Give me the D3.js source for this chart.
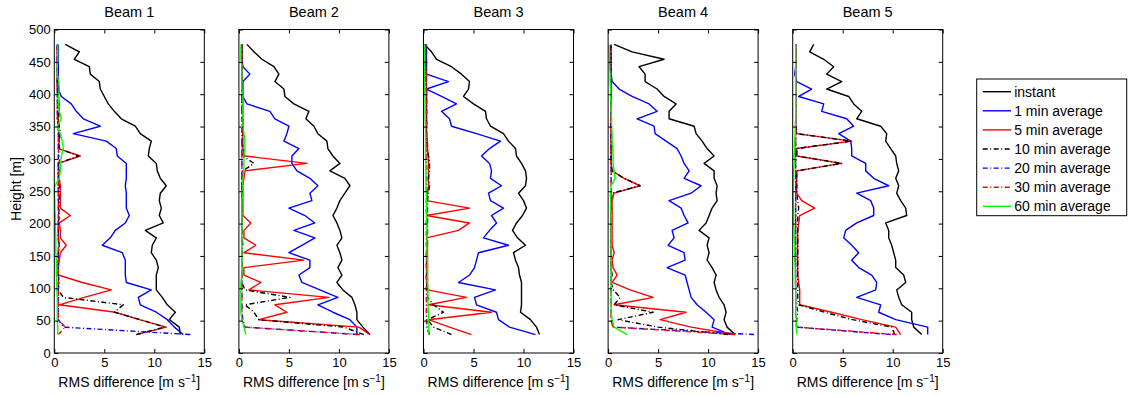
<!DOCTYPE html>
<html>
<head>
<meta charset="utf-8">
<script src="https://cdn.jsdelivr.net/npm/d3@7"></script>
<style>
  body { margin: 0; background: #fff; }
  text { font-family: "Liberation Sans", Arial, Helvetica, sans-serif; }
</style>
</head>
<body>
<script>
const width = 1130;
const height = 396;

// range gate heights [m], bottom to top
const heights = [
  28.5, 40, 51.5, 63, 74.5, 86, 97.5, 109, 120.5, 132,
  143.5, 155, 166.5, 178, 189.5, 201, 212.5, 224, 235.5, 247,
  258.5, 270, 281.5, 293, 304.5, 316, 327.5, 339, 350.5, 362,
  373.5, 385, 396.5, 408, 419.5, 431, 442.5, 454, 465.5, 477
];

const beamNames = ["Beam 1", "Beam 2", "Beam 3", "Beam 4", "Beam 5"];
const seriesNames = ["instant", "1 min average", "5 min average", "10 min average",
                     "20 min average", "30 min average", "60 min average"];
const seriesColors = ["#000000", "#0000ff", "#ff0000", "#000000", "#0000ff", "#ff0000", "#00ff00"];
const seriesDash = [null, null, null, "5,2.5,1,2.5", "5,2.5,1,2.5", "5,2.5,1,2.5", null];

const xTicks = [0, 5, 10, 15];
const yTicks = [0, 50, 100, 150, 200, 250, 300, 350, 400, 450, 500];

// RMS difference [m/s] per series, same order as seriesNames
const beam1 = [
  [12.6, 12.5, 11.5, 12.1, 11.3, 10.8, 10.2, 10.2, 10.2, 10.4,
   10.2, 9.7, 9.8, 10.2, 9.1, 10.9, 10.5, 10.7, 10.5, 10.6,
   11.2, 10.6, 10.3, 10.2, 9.4, 9.5, 9.7, 8.6, 8.1, 6.7,
   6.0, 5.4, 5.0, 4.6, 4.5, 3.6, 3.5, 2.0, 2.5, 1.1],
  [12.9, 12.0, 11.3, 10.2, 8.6, 8.4, 9.7, 7.2, 7.1, 7.1,
   7.1, 6.8, 4.8, 5.6, 6.1, 7.1, 7.5, 7.2, 7.2, 7.2,
   7.1, 7.2, 7.2, 7.2, 6.3, 6.2, 5.2, 1.9, 4.6, 2.9,
   2.2, 1.7, 0.7, 0.4, 0.4, 0.4, 0.4, 0.4, 0.4, 0.4],
  [8.2, 11.2, 8.5, 6.1, 0.5, 3.0, 5.7, 2.8, 0.4, 0.4,
   0.5, 0.6, 1.2, 0.6, 0.6, 0.5, 1.6, 0.6, 0.6, 0.6,
   0.6, 0.5, 0.5, 0.4, 2.6, 0.4, 0.5, 0.5, 0.4, 0.4,
   0.5, 0.5, 0.4, 0.3, 0.3, 0.3, 0.3, 0.3, 0.3, 0.3],
  [8.2, 11.0, 8.6, 6.0, 6.9, 0.9, 0.4, 0.4, 0.4, 0.4,
   0.4, 0.4, 0.5, 0.4, 0.4, 0.4, 0.5, 0.4, 0.5, 0.5,
   0.5, 0.4, 0.4, 0.4, 2.4, 0.5, 0.5, 0.6, 0.5, 0.4,
   0.5, 0.4, 0.4, 0.3, 0.3, 0.3, 0.3, 0.3, 0.3, 0.3],
  [13.6, 0.9, 0.4, 0.4, 0.4, 0.4, 0.4, 0.5, 0.4, 0.4,
   0.4, 0.4, 0.5, 0.4, 0.4, 0.4, 0.4, 0.5, 0.4, 0.4,
   0.4, 0.4, 0.4, 0.4, 0.4, 0.4, 0.4, 0.4, 0.4, 0.3,
   0.3, 0.3, 0.3, 0.3, 0.3, 0.3, 0.3, 0.3, 0.3, 0.3],
  [0.4, 1.1, 0.4, 0.4, 0.4, 0.4, 0.4, 0.4, 0.4, 0.4,
   0.4, 0.4, 0.4, 0.4, 0.4, 0.4, 0.4, 0.4, 0.4, 0.4,
   0.4, 0.4, 0.4, 0.5, 0.5, 0.4, 0.4, 0.4, 0.4, 0.3,
   0.3, 0.3, 0.3, 0.3, 0.3, 0.3, 0.3, 0.3, 0.3, 0.3],
  [0.35, 0.35, 0.3, 0.3, 0.3, 0.3, 0.25, 0.25, 0.2, 0.2,
   0.2, 0.15, 0.15, 0.15, 0.1, 0.1, 0.1, 0.05, 0.05, 0.0,
   0.05, 0.5, 0.6, 0.65, 0.7, 0.9, 0.8, 0.6, 0.3, 0.7,
   0.5, 0.4, 0.4, 0.5, 0.45, 0.3, 0.3, 0.35, 0.35, 0.35]
];

const beam2 = [
  [13.1, 12.4, 11.8, 11.8, 11.6, 11.3, 10.4, 9.8, 10.3, 9.9,
   10.3, 10.1, 9.8, 10.3, 10.1, 9.8, 9.4, 9.8, 10.1, 10.6,
   11.1, 10.6, 9.1, 10.1, 9.4, 8.9, 8.8, 7.9, 7.5, 6.7,
   7.0, 5.5, 4.6, 4.5, 3.6, 4.0, 3.5, 2.3, 1.5, 0.8],
  [11.8, 11.8, 11.1, 9.4, 7.9, 9.9, 8.1, 6.3, 6.0, 7.1,
   7.1, 5.0, 6.3, 7.6, 5.5, 7.6, 6.6, 5.0, 7.3, 7.1,
   7.9, 7.1, 5.8, 5.3, 5.3, 6.0, 4.5, 4.8, 5.0, 3.6,
   3.1, 0.8, 0.4, 0.4, 0.4, 1.1, 0.4, 0.3, 0.3, 0.3],
  [13.1, 12.0, 2.0, 4.8, 3.6, 9.0, 1.0, 2.2, 0.5, 0.5,
   6.5, 0.5, 1.7, 0.5, 0.5, 1.2, 0.4, 0.4, 0.4, 0.4,
   0.4, 0.5, 0.6, 6.8, 0.6, 0.4, 0.4, 0.4, 0.4, 0.4,
   0.4, 0.4, 0.4, 0.3, 0.3, 0.3, 0.3, 0.3, 0.3, 0.3],
  [12.5, 10.5, 2.0, 1.5, 0.6, 5.1, 0.6, 0.3, 0.3, 0.3,
   0.3, 0.3, 0.4, 0.3, 0.3, 0.3, 0.3, 0.3, 0.3, 0.3,
   0.3, 0.3, 0.4, 1.5, 0.4, 0.4, 0.3, 0.4, 0.4, 0.4,
   0.3, 0.3, 0.3, 0.3, 0.3, 0.3, 0.3, 0.3, 0.3, 0.3],
  [11.9, 0.6, 0.4, 0.3, 0.3, 0.3, 0.3, 0.3, 0.3, 0.3,
   0.3, 0.3, 0.3, 0.3, 0.3, 0.3, 0.3, 0.3, 0.3, 0.3,
   0.3, 0.3, 0.3, 0.3, 0.3, 0.3, 0.3, 0.3, 0.3, 0.3,
   0.3, 0.3, 0.3, 0.3, 0.3, 0.3, 0.3, 0.3, 0.3, 0.3],
  [12.1, 0.6, 0.3, 0.3, 0.3, 0.3, 0.3, 0.3, 0.3, 0.3,
   0.3, 0.3, 0.3, 0.3, 0.3, 0.3, 0.3, 0.3, 0.3, 0.3,
   0.3, 0.3, 0.3, 0.3, 0.3, 0.3, 0.3, 0.4, 0.4, 0.4,
   0.3, 0.3, 0.3, 0.3, 0.3, 0.3, 0.3, 0.3, 0.3, 0.3],
  [0.7, 0.5, 0.3, 0.2, 0.2, 0.2, 0.2, 0.2, 0.3, 0.3,
   0.3, 0.3, 0.3, 0.3, 0.3, 0.3, 0.3, 0.3, 0.3, 0.4,
   0.4, 0.4, 0.5, 0.5, 0.5, 0.6, 0.6, 0.5, 0.4, 0.4,
   0.4, 0.4, 0.4, 0.3, 0.3, 0.3, 0.3, 0.2, 0.2, 0.2]
];

const beam3 = [
  [11.6, 11.3, 10.7, 9.7, 9.8, 9.8, 9.8, 9.8, 9.6, 9.5,
   9.2, 9.0, 10.2, 9.4, 8.9, 9.3, 9.9, 10.3, 10.0, 9.5,
   10.2, 10.3, 10.2, 9.8, 9.3, 9.2, 8.5, 8.0, 6.7, 6.3,
   6.2, 5.0, 4.0, 4.5, 4.6, 3.8, 2.8, 1.3, 0.8, 0.1],
  [11.2, 8.6, 7.5, 7.3, 5.3, 5.1, 7.2, 3.5, 4.6, 5.1,
   5.3, 5.5, 8.5, 6.0, 6.6, 7.3, 6.8, 8.0, 6.7, 6.5,
   7.8, 6.7, 6.8, 6.6, 5.8, 6.6, 7.7, 5.3, 2.8, 2.6,
   1.8, 3.3, 1.8, 0.3, 2.5, 0.3, 0.3, 0.3, 0.3, 0.3],
  [4.8, 2.6, 0.5, 6.8, 0.5, 4.3, 0.4, 0.4, 0.4, 0.4,
   0.4, 0.4, 0.4, 0.3, 3.5, 4.6, 0.3, 4.6, 0.3, 0.4,
   0.5, 0.5, 0.5, 0.5, 0.5, 0.4, 0.4, 0.3, 0.3, 0.3,
   0.3, 0.3, 0.3, 0.3, 0.3, 0.3, 0.2, 0.2, 0.2, 0.2],
  [2.8, 1.0, 0.4, 2.0, 1.0, 0.4, 0.4, 0.3, 0.3, 0.3,
   0.3, 0.3, 0.4, 0.4, 0.4, 0.4, 0.4, 0.4, 0.4, 0.5,
   0.6, 0.5, 0.6, 0.6, 0.5, 0.3, 0.3, 0.3, 0.3, 0.3,
   0.3, 0.3, 0.3, 0.3, 0.2, 0.2, 0.2, 0.2, 0.2, 0.2],
  [0.6, 0.3, 0.3, 0.3, 0.3, 0.3, 0.3, 0.3, 0.3, 0.3,
   0.3, 0.3, 0.3, 0.3, 0.3, 0.3, 0.3, 0.3, 0.3, 0.3,
   0.3, 0.3, 0.3, 0.3, 0.3, 0.3, 0.3, 0.3, 0.3, 0.3,
   0.3, 0.3, 0.3, 0.3, 0.2, 0.2, 0.2, 0.2, 0.2, 0.2],
  [0.6, 0.4, 0.3, 0.3, 0.3, 0.3, 0.3, 0.3, 0.3, 0.3,
   0.3, 0.3, 0.3, 0.3, 0.3, 0.3, 0.3, 0.3, 0.3, 0.3,
   0.3, 0.3, 0.3, 0.3, 0.3, 0.3, 0.3, 0.3, 0.3, 0.3,
   0.3, 0.3, 0.3, 0.3, 0.2, 0.2, 0.2, 0.2, 0.2, 0.2],
  [0.5, 0.5, 0.5, 0.5, 0.45, 0.45, 0.45, 0.4, 0.4, 0.4,
   0.4, 0.35, 0.35, 0.35, 0.35, 0.3, 0.3, 0.3, 0.3, 0.3,
   0.25, 0.25, 0.25, 0.25, 0.2, 0.2, 0.2, 0.2, 0.2, 0.15,
   0.15, 0.15, 0.15, 0.1, 0.1, 0.1, 0.1, 0.1, 0.1, 0.1]
];

const beam4 = [
  [12.7, 11.9, 11.6, 11.8, 11.6, 11.1, 10.8, 10.6, 10.8, 10.4,
   9.9, 10.1, 9.9, 10.1, 9.1, 9.8, 10.1, 10.4, 10.9, 10.8,
   10.9, 10.6, 10.6, 9.6, 10.6, 9.9, 9.4, 8.8, 8.6, 6.1,
   6.1, 6.8, 5.6, 4.9, 3.7, 3.7, 3.1, 5.6, 2.4, 0.6],
  [12.2, 10.4, 10.6, 9.8, 8.9, 8.3, 8.1, 7.9, 7.7, 5.9,
   7.7, 7.6, 6.0, 6.6, 6.4, 8.0, 7.6, 7.3, 6.1, 8.3,
   9.3, 7.6, 8.1, 7.6, 7.3, 6.9, 5.8, 4.7, 4.6, 2.9,
   4.9, 4.1, 2.4, 1.1, 0.4, 0.3, 0.3, 0.3, 0.3, 0.3],
  [12.7, 8.3, 5.2, 7.8, 0.6, 4.5, 2.2, 0.4, 0.9, 0.5,
   0.4, 0.6, 0.4, 0.4, 0.4, 0.4, 0.4, 0.4, 0.4, 0.6,
   3.2, 1.6, 0.4, 0.3, 0.3, 0.3, 0.3, 0.3, 0.3, 0.3,
   0.3, 0.3, 0.3, 0.3, 0.3, 0.3, 0.3, 0.3, 0.3, 0.3],
  [12.0, 5.0, 1.0, 4.5, 0.6, 1.2, 0.5, 0.3, 0.4, 0.3,
   0.3, 0.3, 0.3, 0.3, 0.3, 0.3, 0.3, 0.3, 0.3, 0.4,
   3.2, 1.6, 0.4, 0.3, 0.3, 0.3, 0.3, 0.3, 0.3, 0.3,
   0.3, 0.3, 0.3, 0.3, 0.3, 0.3, 0.3, 0.3, 0.3, 0.3],
  [14.6, 0.5, 0.3, 0.3, 0.3, 0.3, 0.3, 0.3, 0.3, 0.3,
   0.3, 0.3, 0.3, 0.3, 0.3, 0.3, 0.3, 0.3, 0.3, 0.3,
   0.3, 0.3, 0.3, 0.3, 0.3, 0.3, 0.3, 0.3, 0.3, 0.3,
   0.3, 0.3, 0.3, 0.3, 0.3, 0.3, 0.3, 0.3, 0.3, 0.3],
  [12.7, 0.5, 0.3, 0.3, 0.3, 0.3, 0.3, 0.3, 0.3, 0.3,
   0.3, 0.3, 0.3, 0.3, 0.3, 0.3, 0.3, 0.3, 0.3, 0.3,
   0.3, 0.3, 0.3, 0.3, 0.3, 0.3, 0.3, 0.3, 0.3, 0.3,
   0.3, 0.3, 0.3, 0.3, 0.3, 0.3, 0.3, 0.3, 0.3, 0.3],
  [1.9, 0.6, 0.4, 0.3, 0.3, 0.3, 0.3, 0.3, 0.3, 0.3,
   0.3, 0.3, 0.3, 0.3, 0.3, 0.3, 0.3, 0.25, 0.25, 0.25,
   0.3, 0.7, 0.6, 0.5, 0.5, 0.45, 0.4, 0.4, 0.35, 0.35,
   0.3, 0.3, 0.25, 0.25, 0.2, 0.2, 0.15, 0.15, 0.1, 0.1]
];

const beam5 = [
  [12.9, 12.1, 11.9, 11.9, 10.9, 10.6, 10.4, 11.3, 11.1, 10.3,
   10.3, 10.1, 9.9, 9.6, 9.6, 9.3, 11.4, 11.3, 10.8, 10.4,
   10.6, 10.3, 10.6, 10.4, 10.3, 9.8, 9.3, 9.4, 8.8, 6.4,
   6.9, 6.1, 5.6, 3.4, 4.9, 3.4, 4.1, 3.1, 1.7, 2.1],
  [13.5, 13.5, 10.3, 8.6, 8.8, 6.4, 8.3, 8.4, 7.9, 6.6,
   5.9, 6.6, 5.9, 5.1, 5.3, 6.4, 8.1, 8.1, 7.8, 6.4,
   9.6, 8.1, 7.3, 7.3, 5.9, 5.9, 5.8, 4.6, 6.1, 5.4,
   2.9, 3.1, 0.6, 1.9, 0.4, 0.2, 0.3, 0.3, 0.3, 0.3],
  [10.8, 10.3, 6.9, 3.9, 0.7, 0.7, 0.7, 0.6, 0.5, 0.5,
   0.5, 0.5, 0.5, 0.5, 0.5, 0.6, 0.7, 2.2, 0.9, 0.4,
   0.4, 0.4, 0.4, 4.9, 0.4, 0.4, 5.9, 0.4, 0.3, 0.3,
   0.3, 0.3, 0.3, 0.3, 0.3, 0.3, 0.3, 0.3, 0.3, 0.3],
  [10.2, 9.9, 6.0, 3.2, 0.6, 0.5, 0.5, 0.5, 0.5, 0.5,
   0.5, 0.5, 0.5, 0.5, 0.5, 0.5, 0.5, 0.6, 0.5, 0.4,
   0.4, 0.4, 0.4, 4.9, 0.4, 0.4, 5.9, 0.4, 0.3, 0.3,
   0.3, 0.3, 0.3, 0.3, 0.3, 0.3, 0.3, 0.3, 0.3, 0.3],
  [9.8, 0.4, 0.4, 0.5, 0.4, 0.3, 0.3, 0.3, 0.3, 0.3,
   0.3, 0.3, 0.3, 0.3, 0.3, 0.3, 0.3, 0.3, 0.3, 0.3,
   0.3, 0.3, 0.3, 0.3, 0.3, 0.3, 0.3, 0.3, 0.3, 0.3,
   0.3, 0.3, 0.3, 0.3, 0.3, 0.3, 0.3, 0.3, 0.3, 0.3],
  [10.4, 0.4, 0.3, 0.3, 0.3, 0.3, 0.3, 0.3, 0.3, 0.3,
   0.3, 0.3, 0.3, 0.3, 0.3, 0.3, 0.3, 0.3, 0.3, 0.3,
   0.3, 0.3, 0.3, 0.3, 0.3, 0.3, 0.3, 0.3, 0.3, 0.3,
   0.3, 0.3, 0.3, 0.3, 0.3, 0.3, 0.3, 0.3, 0.3, 0.3],
  [0.4, 0.35, 0.35, 0.3, 0.3, 0.3, 0.3, 0.25, 0.25, 0.25,
   0.2, 0.2, 0.2, 0.15, 0.15, 0.1, 0.1, 0.1, 0.05, 0.05,
   0.05, 0.1, 0.1, 0.15, 0.15, 0.2, 0.2, 0.25, 0.25, 0.3,
   0.3, 0.3, 0.3, 0.3, 0.3, 0.3, 0.3, 0.3, 0.3, 0.3]
];

const beams = [beam1, beam2, beam3, beam4, beam5];

// layout
const plotTop = 29.5;
const plotBottom = 353;
const panelW = 150;
const firstLeft = 54.3;
const panelStep = 184.6;

const svg = d3.select("body")
    .append("svg")
    .attr("width", width)
    .attr("height", height);

const yScale = d3.scaleLinear().domain([0, 500]).range([plotBottom, plotTop]);
const xScale = d3.scaleLinear().domain([0, 15]).range([0, panelW]);

const line = d3.line()
    .x(d => xScale(d[1]))
    .y(d => yScale(d[0]));

beams.forEach((beam, b) => {
    const g = svg.append("g")
        .attr("transform", `translate(${firstLeft + b * panelStep},0)`);

    // data lines
    beam.forEach((vals, s) => {
        const pts = heights.map((h, i) => [h, vals[i]]);
        g.append("path")
            .datum(pts)
            .attr("d", line)
            .attr("fill", "none")
            .attr("stroke", seriesColors[s])
            .attr("stroke-width", 1.4)
            .attr("stroke-linejoin", "round")
            .attr("stroke-dasharray", seriesDash[s]);
    });

    // axes, ticks pointing inwards (matlab style)
    const left = d3.axisLeft(yScale).tickValues(yTicks).tickSize(-4).tickSizeOuter(0).tickPadding(3.5);
    if (b > 0) left.tickFormat("");
    g.append("g").attr("class", "ax").call(left);

    g.append("g").attr("class", "ax")
        .attr("transform", `translate(${panelW},0)`)
        .call(d3.axisRight(yScale).tickValues(yTicks).tickSize(-4).tickSizeOuter(0).tickFormat(""));

    g.append("g").attr("class", "ax")
        .attr("transform", `translate(0,${plotBottom})`)
        .call(d3.axisBottom(xScale).tickValues(xTicks).tickSize(-4).tickSizeOuter(0).tickPadding(5));

    g.append("g").attr("class", "ax")
        .attr("transform", `translate(0,${plotTop})`)
        .call(d3.axisTop(xScale).tickValues(xTicks).tickSize(-4).tickSizeOuter(0).tickFormat(""));

    g.append("rect")
        .attr("x", 0).attr("y", plotTop)
        .attr("width", panelW).attr("height", plotBottom - plotTop)
        .attr("fill", "none").attr("stroke", "#000").attr("stroke-width", 1);

    g.append("text")
        .attr("x", panelW / 2).attr("y", 17)
        .attr("text-anchor", "middle")
        .attr("font-size", 14.5)
        .text(beamNames[b]);

    const xl = g.append("text")
        .attr("x", panelW / 2).attr("y", 387)
        .attr("text-anchor", "middle")
        .attr("font-size", 14);
    xl.append("tspan").text("RMS difference [m s");
    xl.append("tspan").attr("dy", -5).attr("font-size", 10).text("\u22121");
    xl.append("tspan").attr("dy", 5).text("]");
});

svg.selectAll(".ax path").attr("stroke", "none");
svg.selectAll(".ax line").attr("stroke", "#000").attr("stroke-width", 1);
svg.selectAll(".ax text")
    .attr("font-size", 13)
    .attr("font-family", "Liberation Sans, Arial, Helvetica, sans-serif")
    .attr("fill", "#000");

svg.append("text")
    .attr("transform", "translate(21,189) rotate(-90)")
    .attr("text-anchor", "middle")
    .attr("font-size", 14)
    .text("Height [m]");

// legend
const legX = 976.7, legY = 79, legW = 150, legH = 136.7;
const legend = svg.append("g");
legend.append("rect")
    .attr("x", legX).attr("y", legY)
    .attr("width", legW).attr("height", legH)
    .attr("fill", "#fff").attr("stroke", "#000").attr("stroke-width", 1);

seriesNames.forEach((name, s) => {
    const yy = legY + 12.7 + s * 19.1;
    legend.append("line")
        .attr("x1", legX + 6).attr("x2", legX + 34.3)
        .attr("y1", yy).attr("y2", yy)
        .attr("stroke", seriesColors[s])
        .attr("stroke-width", 1.4)
        .attr("stroke-dasharray", seriesDash[s]);
    legend.append("text")
        .attr("x", legX + 37.5).attr("y", yy)
        .attr("dy", "0.35em")
        .attr("font-size", 14)
        .text(name);
});
</script>
</body>
</html>
